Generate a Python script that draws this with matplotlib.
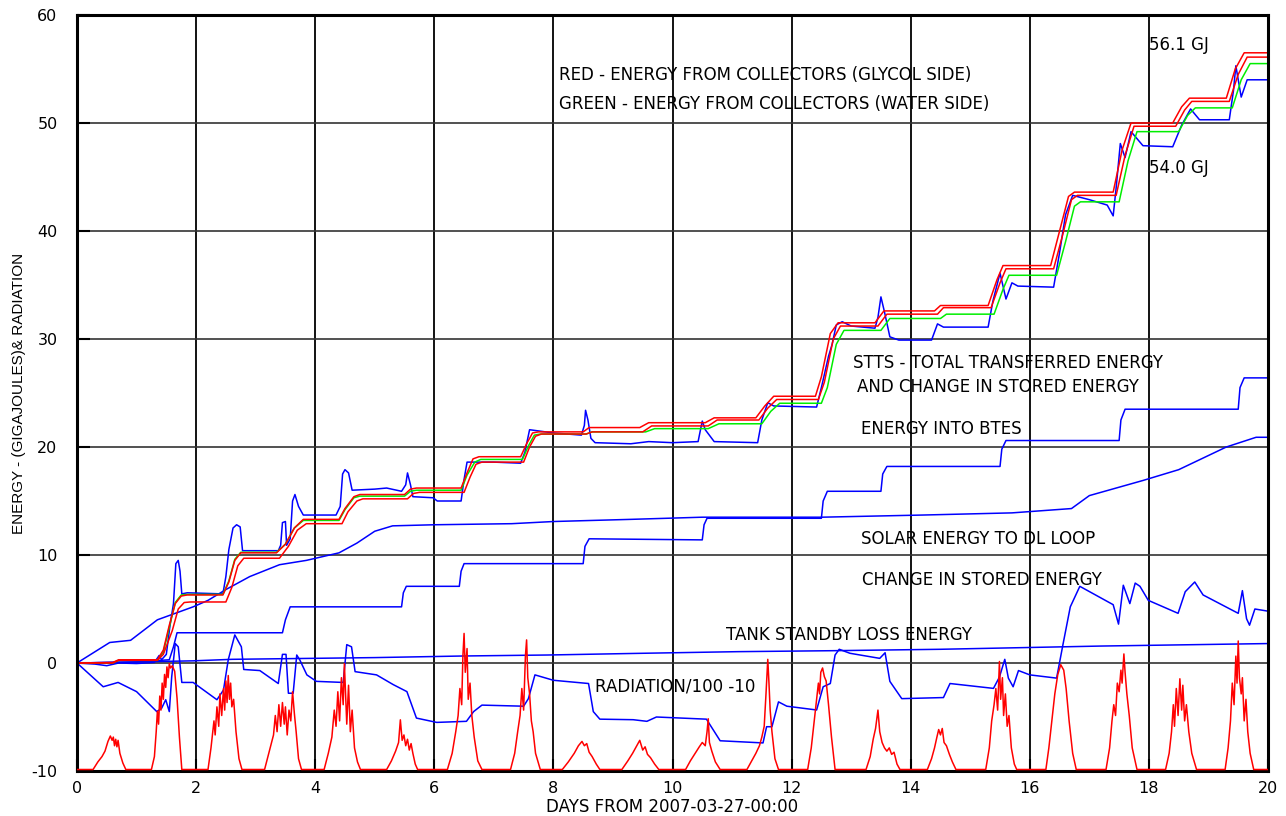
import matplotlib
matplotlib.use("Agg")
import numpy as np
from matplotlib import pyplot as plt
from matplotlib import transforms

plt.rcParams["axes.unicode_minus"] = False

# glycol side (two meters) and water side, cumulative GJ
glycol_a_t = [0, 0.6, 0.7, 1.35, 1.45, 1.55, 1.65, 1.75, 1.85, 2.45, 2.55, 2.65, 2.75, 3.35, 3.5, 3.65, 3.8,
              4.4, 4.5, 4.65, 4.75, 5.5, 5.6, 5.7, 6.45, 6.55, 6.65, 6.75, 7.45, 7.55, 7.65, 7.75, 8.5, 8.6,
              9.45, 9.6, 10.55, 10.7, 11.4, 11.55, 11.7, 12.4, 12.5, 12.65, 12.78, 13.4, 13.55, 14.4, 14.5,
              15.3, 15.45, 15.55, 16.35, 16.5, 16.65, 16.75, 17.4, 17.55, 17.7, 18.4, 18.55, 18.68, 19.3,
              19.45, 19.6, 20]
glycol_a_e = [0, 0.05, 0.3, 0.3, 1.2, 3.5, 5.5, 6.2, 6.3, 6.3, 7.5, 9.5, 10.2, 10.2, 11, 12.5, 13.3,
              13.3, 14.3, 15.4, 15.6, 15.6, 16.1, 16.2, 16.2, 17.6, 18.9, 19.1, 19.1, 20.3, 21.3, 21.4, 21.4, 21.8,
              21.8, 22.25, 22.25, 22.7, 22.7, 23.8, 24.7, 24.7, 26.5, 30.5, 31.5, 31.5, 32.6, 32.6, 33.1,
              33.1, 35.5, 36.8, 36.8, 40, 43.2, 43.6, 43.6, 47.5, 50.0, 50.0, 51.5, 52.3, 52.3,
              55, 56.5, 56.5]

glycol_b_t = [0, 0.6, 0.7, 1.35, 1.45, 1.6, 1.7, 1.8, 1.9, 2.5, 2.6, 2.7, 2.8, 3.4, 3.55, 3.7, 3.85,
              4.45, 4.55, 4.7, 4.8, 5.55, 5.65, 5.75, 6.5, 6.6, 6.7, 6.8, 7.5, 7.6, 7.7, 7.8, 8.55, 8.65,
              9.5, 9.65, 10.6, 10.75, 11.45, 11.6, 11.75, 12.45, 12.55, 12.7, 12.82, 13.45, 13.6, 14.45, 14.55,
              15.35, 15.5, 15.6, 16.4, 16.55, 16.7, 16.8, 17.45, 17.6, 17.75, 18.45, 18.6, 18.72, 19.35,
              19.5, 19.65, 20]
glycol_b_e = [0, 0, 0.25, 0.25, 0.8, 3.0, 5.0, 5.6, 5.65, 5.65, 7.0, 9.0, 9.7, 9.7, 10.8, 12.3, 12.9,
              12.9, 14, 15.0, 15.2, 15.2, 15.7, 15.8, 15.8, 17.2, 18.4, 18.6, 18.6, 20.0, 21.0, 21.2, 21.2, 21.4,
              21.4, 21.95, 21.95, 22.5, 22.5, 23.6, 24.4, 24.4, 26.0, 30.0, 31.2, 31.2, 32.3, 32.3, 32.9,
              32.9, 35.2, 36.5, 36.5, 39.6, 42.9, 43.3, 43.3, 47.0, 49.7, 49.7, 51.2, 52.0, 52.0,
              54.5, 56.1, 56.1]

water_t = [0, 0.6, 0.7, 1.35, 1.45, 1.55, 1.65, 1.75, 1.85, 2.45, 2.55, 2.65, 2.75, 3.35, 3.5, 3.65, 3.8,
           4.4, 4.5, 4.65, 4.75, 5.5, 5.6, 5.7, 6.45, 6.55, 6.68, 6.78, 7.48, 7.58, 7.68, 7.78, 8.55, 8.65,
           9.55, 9.7, 10.6, 10.78, 11.5, 11.65, 11.8, 12.5, 12.6, 12.75, 12.88, 13.5, 13.65, 14.5, 14.6,
           15.4, 15.55, 15.65, 16.45, 16.6, 16.75, 16.85, 17.5, 17.65, 17.8, 18.5, 18.65, 18.78, 19.4,
           19.55, 19.7, 20]
water_e = [0, 0, 0.25, 0.25, 1.0, 3.3, 5.6, 6.3, 6.35, 6.35, 7.6, 9.6, 10.25, 10.25, 11.0, 12.5, 13.2,
           13.2, 14.2, 15.3, 15.45, 15.45, 15.9, 16.0, 16.0, 17.4, 18.6, 18.85, 18.85, 20.1, 21.1, 21.2, 21.2, 21.4,
           21.4, 21.7, 21.7, 22.15, 22.15, 23.3, 24.05, 24.05, 25.5, 29.5, 30.8, 30.8, 31.9, 31.9, 32.3,
           32.3, 34.6, 35.9, 35.9, 39.0, 42.3, 42.7, 42.7, 46.5, 49.2, 49.2, 50.7, 51.4, 51.4,
           54.0, 55.5, 55.5]

# STTS total transferred energy and change in stored energy
stts_t = [0, 0.3, 0.5, 0.7, 1.0, 1.3, 1.38, 1.42, 1.5, 1.56, 1.62, 1.66, 1.7, 1.73, 1.76, 1.85, 2.45, 2.5,
          2.55, 2.62, 2.68, 2.74, 2.78, 3.38, 3.42, 3.45, 3.5, 3.52, 3.58, 3.62, 3.66, 3.72, 3.8, 4.35, 4.42,
          4.46, 4.5, 4.56, 4.62, 5.0, 5.2, 5.45, 5.52, 5.55, 5.6, 5.64, 5.98, 6.05, 6.45, 6.5, 6.55, 7.0,
          7.45, 7.52, 7.6, 8.0, 8.47, 8.52, 8.54, 8.58, 8.63, 8.7, 9.3, 9.6, 10.0, 10.43, 10.47, 10.5, 10.55,
          10.7, 11.43, 11.5, 11.6, 11.7, 12.42, 12.5, 12.62, 12.68, 12.75, 12.85, 13.0, 13.4, 13.45, 13.5,
          13.56, 13.65, 13.8, 14.35, 14.45, 14.55, 15.3, 15.38, 15.5, 15.6, 15.7, 15.8, 16.4, 16.5, 16.6,
          16.72, 17.0, 17.3, 17.4, 17.45, 17.52, 17.6, 17.7, 17.9, 18.4, 18.55, 18.7, 18.85, 19.35, 19.42,
          19.46, 19.55, 19.65, 20]
stts_e = [0, -0.1, -0.25, 0.0, -0.05, 0.05, 0.7, 0.3, 0.8, 3.4, 5.5, 9.2, 9.5, 8.5, 6.4, 6.5, 6.4, 8.0,
          10.5, 12.5, 12.8, 12.6, 10.4, 10.4, 10.9, 13.0, 13.1, 10.9, 11.5, 15.0, 15.6, 14.5, 13.7, 13.7, 14.5,
          17.5, 17.9, 17.6, 16.0, 16.1, 16.2, 15.9, 16.5, 17.6, 16.5, 15.4, 15.3, 15.0, 15.0, 17.0, 18.6, 18.6,
          18.5, 19.5, 21.6, 21.3, 21.1, 22.0, 23.4, 22.5, 20.8, 20.4, 20.3, 20.5, 20.4, 20.5, 21.6, 22.4, 21.6,
          20.5, 20.4, 22.5, 24.1, 23.8, 23.7, 25.5, 28.4, 29.5, 31.3, 31.6, 31.2, 31.0, 32.0, 33.9,
          32.5, 30.2, 29.9, 29.9, 31.4, 31.1, 31.1, 33.5, 36.1, 33.7, 35.2, 34.9, 34.8, 38.0, 41.5,
          43.3, 42.9, 42.4, 41.4, 44.0, 48.1, 46.8, 49.2, 47.9, 47.8, 49.8, 51.3, 50.3, 50.3, 53.0,
          55.3, 52.4, 54.0, 54.0]

btes_t = [0, 1.0, 1.55, 1.62, 1.68, 3.45, 3.5, 3.58, 5.45, 5.48, 5.53, 6.42, 6.45, 6.5, 8.5, 8.53, 8.6,
          10.5, 10.53, 10.58, 12.5, 12.53, 12.6, 13.5, 13.53, 13.6, 15.5, 15.53, 15.6, 17.5, 17.53, 17.6,
          19.5, 19.53, 19.6, 20]
btes_e = [0, 0.1, 0.3, 1.5, 2.8, 2.8, 4.0, 5.2, 5.2, 6.5, 7.1, 7.1, 8.5, 9.2, 9.2, 10.8, 11.5,
          11.4, 12.8, 13.4, 13.4, 15.0, 15.9, 15.9, 17.5, 18.2, 18.2, 19.8, 20.6, 20.6, 22.5, 23.5,
          23.5, 25.5, 26.4, 26.4]

dl_t = [0, 0.55, 0.9, 1.35, 1.5, 1.95, 2.2, 2.5, 2.9, 3.4, 3.85, 4.4, 4.7, 5.0, 5.3, 6.0, 7.3, 8.0, 9.3,
        10.5, 12.5, 14.2, 15.7, 16.7, 17.0, 17.9, 18.5, 19.3, 19.8, 20]
dl_e = [0, 1.9, 2.1, 4.0, 4.3, 5.2, 5.8, 6.8, 8.0, 9.1, 9.5, 10.2, 11.1, 12.2, 12.7, 12.8, 12.9, 13.1, 13.3,
        13.5, 13.5, 13.7, 13.9, 14.3, 15.5, 16.9, 17.9, 20.0, 20.9, 20.9]

stored_t = [0, 0.44, 0.69, 1.0, 1.34, 1.42, 1.49, 1.55, 1.59, 1.65, 1.7, 1.76, 1.95, 2.35, 2.46, 2.54, 2.65,
            2.76, 2.8, 3.07, 3.38, 3.45, 3.51, 3.55, 3.63, 3.69, 3.74, 3.86, 4.02, 4.47, 4.53, 4.61, 4.67,
            5.03, 5.31, 5.54, 5.7, 6.04, 6.54, 6.66, 6.8, 7.5, 7.58, 7.69, 8.0, 8.59, 8.67, 8.78, 9.34, 9.57,
            9.73, 10.57, 10.8, 11.52, 11.58, 11.67, 11.78, 11.92, 12.42, 12.53, 12.65, 12.73, 12.8, 12.98,
            13.48, 13.57, 13.65, 13.85, 14.55, 14.66, 15.39, 15.49, 15.58, 15.64, 15.72, 15.81, 16.0, 16.45,
            16.56, 16.68, 16.84, 17.4, 17.49, 17.57, 17.68, 17.77, 17.85, 17.99, 18.49, 18.61, 18.77, 18.91,
            19.5, 19.57, 19.64, 19.69, 19.78, 20.0]
stored_e = [0, -2.2, -1.8, -2.65, -4.5, -4.2, -3.4, -4.5, -1.3, 1.8, 1.5, -1.8, -1.8, -3.4, -2.5, 0.3, 2.6,
            1.5, -0.6, -0.7, -1.9, 0.8, 0.8, -2.8, -2.8, 0.74, 0.3, -1.1, -1.7, -1.8, 1.7, 1.5, -0.8,
            -1.1, -2.0, -2.65, -5.1, -5.5, -5.4, -4.5, -3.9, -4.0, -3.3, -1.1, -1.6, -1.9, -4.5, -5.2, -5.25, -5.4,
            -5.0, -5.2, -7.2, -7.4, -5.9, -5.9, -3.6, -4.0, -4.35, -2.2, -1.9, 0.74, 1.27, 0.9,
            0.43, 0.95, -1.7, -3.3, -3.2, -1.9, -2.35, -1.3, 0.34, -1.4, -2.2, -0.7, -1.1, -1.4,
            1.8, 5.2, 7.1, 5.4, 3.6, 7.2, 5.5, 7.4, 7.1, 5.8, 4.6, 6.6, 7.5, 6.3,
            4.6, 6.7, 4.1, 3.5, 5.0, 4.8]

standby_t = [0, 1.95, 2.6, 5.0, 6.5, 7.9, 9.5, 11.1, 12.7, 14.5, 17.2, 20]
standby_e = [0, 0.2, 0.34, 0.5, 0.65, 0.74, 0.9, 1.05, 1.14, 1.27, 1.57, 1.8]

# radiation/100 - 10, one list of (day, value) per day
radiation = [
    [(0.0, -10), (0.27, -10), (0.35, -9.3), (0.42, -8.8), (0.47, -8.3), (0.52, -7.4), (0.56, -6.9), (0.59, -7.3),
     (0.61, -7.0), (0.63, -7.8), (0.65, -7.2), (0.67, -7.9), (0.69, -7.3), (0.72, -8.5), (0.77, -9.4), (0.82, -10)],
    [(1.25, -10), (1.3, -8.8), (1.33, -6.5), (1.35, -4.6), (1.37, -5.8), (1.39, -3.2), (1.41, -4.5), (1.43, -2.0),
     (1.45, -3.5), (1.47, -1.2), (1.49, -2.4), (1.51, -0.5), (1.53, -1.5), (1.55, -0.2), (1.57, -0.6), (1.6, -0.4),
     (1.64, -0.9), (1.68, -3.4), (1.72, -7.0), (1.76, -10)],
    [(2.2, -10), (2.25, -8.0), (2.3, -5.5), (2.32, -6.8), (2.35, -4.2), (2.38, -6.0), (2.4, -3.0), (2.43, -5.0),
     (2.46, -2.5), (2.48, -4.5), (2.5, -1.8), (2.52, -3.8), (2.54, -1.3), (2.56, -3.5), (2.58, -2.0), (2.6, -4.2),
     (2.63, -3.5), (2.67, -6.5), (2.72, -9.0), (2.77, -10)],
    [(3.15, -10), (3.22, -8.5), (3.3, -6.8), (3.33, -5.0), (3.36, -6.5), (3.39, -4.0), (3.42, -6.0), (3.45, -3.8),
     (3.48, -5.8), (3.5, -4.2), (3.53, -6.8), (3.56, -4.5), (3.59, -5.5), (3.62, -2.8), (3.65, -4.8), (3.68, -6.5),
     (3.72, -9.0), (3.77, -10)],
    [(4.15, -10), (4.22, -8.5), (4.28, -7.0), (4.32, -4.5), (4.35, -6.0), (4.38, -2.8), (4.41, -5.5), (4.44, -1.5),
     (4.47, -4.0), (4.49, -0.2), (4.51, -3.0), (4.53, -5.8), (4.56, -2.2), (4.59, -6.5), (4.62, -4.5), (4.66, -8.0),
     (4.71, -9.3), (4.76, -10)],
    [(5.2, -10), (5.28, -9.2), (5.35, -8.3), (5.4, -7.5), (5.43, -5.4), (5.46, -7.3), (5.49, -6.8), (5.52, -7.8),
     (5.55, -7.2), (5.58, -8.2), (5.61, -7.6), (5.64, -8.5), (5.68, -9.5), (5.72, -10)],
    [(6.22, -10), (6.3, -8.5), (6.36, -6.5), (6.4, -5.0), (6.43, -2.5), (6.46, -4.0), (6.48, 0.5), (6.5, 2.6),
     (6.52, -1.0), (6.55, 1.2), (6.57, -3.5), (6.6, -2.0), (6.63, -5.0), (6.67, -7.0), (6.73, -9.2), (6.8, -10)],
    [(7.28, -10), (7.35, -8.5), (7.4, -6.5), (7.44, -5.0), (7.47, -2.5), (7.5, -4.5), (7.53, 0.5), (7.55, 2.0),
     (7.57, -1.5), (7.6, -3.0), (7.63, -5.5), (7.66, -6.5), (7.7, -8.5), (7.78, -10)],
    [(8.15, -10), (8.25, -9.3), (8.35, -8.5), (8.42, -7.8), (8.48, -7.4), (8.52, -7.8), (8.56, -7.6), (8.6, -8.4),
     (8.65, -8.8), (8.72, -9.5), (8.78, -10)],
    [(9.15, -10), (9.25, -9.2), (9.33, -8.5), (9.4, -7.8), (9.45, -7.3), (9.5, -8.2), (9.54, -7.9), (9.58, -8.6),
     (9.63, -8.9), (9.7, -9.5), (9.77, -10)],
    [(10.22, -10), (10.3, -9.2), (10.38, -8.5), (10.45, -7.9), (10.5, -7.5), (10.55, -7.8), (10.58, -6.5),
     (10.6, -5.3), (10.62, -7.5), (10.66, -8.3), (10.72, -9.3), (10.8, -10)],
    [(11.25, -10), (11.33, -9.2), (11.4, -8.5), (11.46, -7.8), (11.5, -7.0), (11.54, -6.0), (11.57, -3.0),
     (11.6, 0.2), (11.62, -2.0), (11.64, -4.5), (11.67, -6.5), (11.72, -9.0), (11.78, -10)],
    [(12.27, -10), (12.33, -8.0), (12.38, -5.5), (12.42, -3.5), (12.45, -2.0), (12.47, -3.0), (12.49, -1.0),
     (12.52, -0.6), (12.55, -1.4), (12.58, -1.8), (12.62, -4.0), (12.67, -7.0), (12.73, -10)],
    [(13.25, -10), (13.32, -8.8), (13.37, -7.2), (13.41, -6.2), (13.45, -4.5), (13.48, -6.5), (13.52, -7.5),
     (13.56, -8.0), (13.6, -8.3), (13.64, -8.0), (13.68, -8.6), (13.72, -8.4), (13.77, -9.5), (13.82, -10)],
    [(14.28, -10), (14.35, -9.0), (14.4, -8.0), (14.44, -7.0), (14.47, -6.3), (14.5, -6.8), (14.53, -6.2),
     (14.56, -7.5), (14.6, -7.8), (14.65, -8.6), (14.7, -9.3), (14.76, -10)],
    [(15.26, -10), (15.32, -8.0), (15.36, -5.5), (15.4, -4.0), (15.43, -2.5), (15.46, -4.5), (15.49, 0.0),
     (15.51, -3.5), (15.54, -1.5), (15.56, -5.0), (15.59, -3.0), (15.62, -6.0), (15.65, -5.0), (15.69, -8.0),
     (15.74, -9.5), (15.78, -10)],
    [(16.27, -10), (16.32, -8.0), (16.37, -5.5), (16.42, -3.0), (16.47, -1.2), (16.52, -0.3), (16.57, -0.8),
     (16.61, -2.5), (16.66, -5.5), (16.72, -8.5), (16.78, -10)],
    [(17.28, -10), (17.34, -8.0), (17.38, -5.5), (17.41, -4.0), (17.44, -5.0), (17.47, -2.0), (17.5, -2.8),
     (17.53, -0.8), (17.55, -2.0), (17.58, 0.7), (17.6, -1.0), (17.63, -3.0), (17.67, -5.0), (17.72, -8.0),
     (17.8, -10)],
    [(18.28, -10), (18.34, -8.5), (18.38, -6.5), (18.41, -4.0), (18.43, -6.0), (18.46, -2.5), (18.49, -5.0),
     (18.52, -1.6), (18.55, -4.5), (18.57, -2.2), (18.6, -5.5), (18.63, -4.0), (18.67, -6.5), (18.72, -8.5),
     (18.8, -10)],
    [(19.28, -10), (19.33, -8.0), (19.37, -5.5), (19.4, -2.0), (19.43, -4.0), (19.46, 0.5), (19.48, -2.0),
     (19.5, 1.9), (19.52, -1.5), (19.55, -3.0), (19.57, -1.5), (19.6, -5.5), (19.63, -3.5), (19.66, -6.5),
     (19.7, -8.5), (19.76, -10), (20, -10)],
]

x_ticks = list(range(0, 21, 2))
y_ticks = list(range(-10, 61, 10))

# (text, day, energy) for the annotations inside the plot
labels = [
    ("RED - ENERGY FROM COLLECTORS (GLYCOL SIDE)", 8.09, 54.4),
    ("GREEN - ENERGY FROM COLLECTORS (WATER SIDE)", 8.09, 51.75),
    ("56.1 GJ", 18.0, 57.2),
    ("54.0 GJ", 18.0, 45.8),
    ("STTS - TOTAL TRANSFERRED ENERGY", 13.03, 27.8),
    ("AND CHANGE IN STORED ENERGY", 13.1, 25.55),
    ("ENERGY INTO BTES", 13.17, 21.7),
    ("SOLAR ENERGY TO DL LOOP", 13.17, 11.5),
    ("CHANGE IN STORED ENERGY", 13.19, 7.7),
    ("TANK STANDBY LOSS ENERGY", 10.9, 2.6),
    ("RADIATION/100 -10", 8.7, -2.2),
]

BLUE = "#0000ff"
RED = "#ff0000"
GREEN = "#00ee00"
LW = 1.1

fig = plt.figure(figsize=(12.86, 8.16), dpi=100)
ax = fig.add_axes([77 / 1286, 45 / 816, 1191 / 1286, 756 / 816])

# lift the radiation trace a pixel so its night baseline shows above the bottom spine
rad = np.array([p for day in radiation for p in day])
lifted = transforms.offset_copy(ax.transData, fig=fig, y=1.5, units="dots")
ax.plot(rad[:, 0], rad[:, 1], color=RED, lw=LW, zorder=4, transform=lifted)

ax.plot(standby_t, standby_e, color=BLUE, lw=LW)
ax.plot(stored_t, stored_e, color=BLUE, lw=LW)
ax.plot(dl_t, dl_e, color=BLUE, lw=LW)
ax.plot(btes_t, btes_e, color=BLUE, lw=LW)
ax.plot(stts_t, stts_e, color=BLUE, lw=LW)
ax.plot(water_t, water_e, color=GREEN, lw=LW)
ax.plot(glycol_b_t, glycol_b_e, color=RED, lw=LW)
ax.plot(glycol_a_t, glycol_a_e, color=RED, lw=LW)

ax.set_xlim(0, 20)
ax.set_ylim(-10, 60)
ax.set_xticks(x_ticks)
ax.set_yticks(y_ticks)
ax.set_axisbelow(True)
ax.grid(True, axis="x", color="black", lw=1.3)
ax.grid(True, axis="y", color="#333333", lw=1.2)
for s in ax.spines.values():
    s.set_linewidth(2.2)
ax.tick_params(direction="in", length=9, width=1.5, labelsize=11.5)
ax.tick_params(axis="x", pad=7)
ax.tick_params(axis="y", pad=14)
for lab in ax.get_xticklabels() + ax.get_yticklabels():
    lab.set_family("DejaVu Sans")

for txt, x, y in labels:
    ax.text(x, y, txt, fontsize=12, family="DejaVu Sans", ha="left", va="center")

ax.set_xlabel("DAYS FROM 2007-03-27-00:00", fontsize=12, family="DejaVu Sans", labelpad=2)
ax.set_ylabel("ENERGY - (GIGAJOULES)& RADIATION", fontsize=11, family="Liberation Sans", labelpad=4)

fig.savefig("out.png", dpi=100)
